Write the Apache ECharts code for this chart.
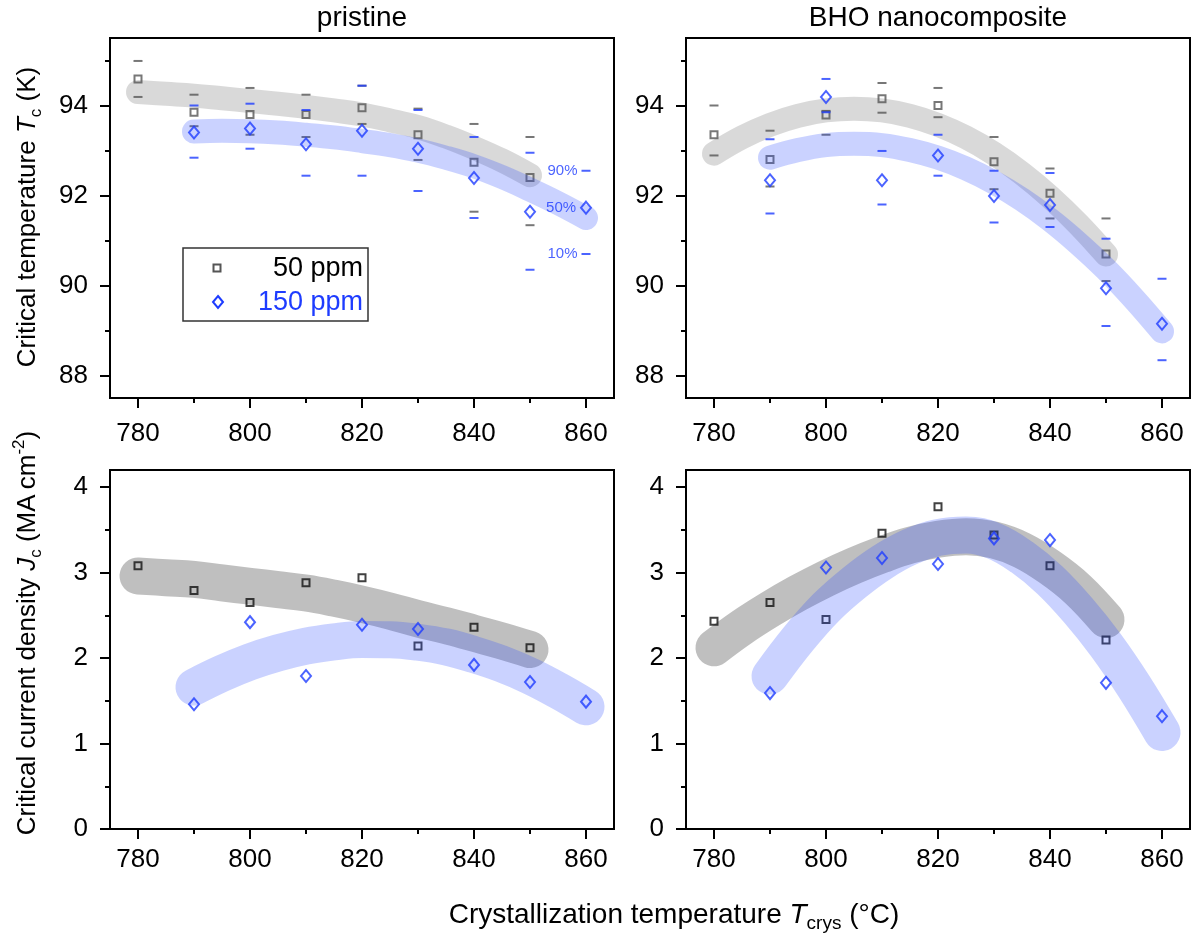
<!DOCTYPE html>
<html>
<head>
<meta charset="utf-8">
<script src="https://cdn.jsdelivr.net/npm/echarts@6/dist/echarts.min.js"></script>
<style>
  html, body { margin: 0; padding: 0; background: #fff; }
  #chart { width: 1192px; height: 938px; }
</style>
</head>
<body>
<div id="chart"></div>
<script>
// ---------------- data ----------------
const temps50 = [780, 790, 800, 810, 820, 830, 840, 850];
const temps150 = [790, 800, 810, 820, 830, 840, 850, 860];
// trend bands read every 5 °C
const bandT50 = [780, 785, 790, 795, 800, 805, 810, 815, 820, 825, 830, 835, 840, 845, 850];
const bandT150 = [790, 795, 800, 805, 810, 815, 820, 825, 830, 835, 840, 845, 850, 855, 860];

// pristine, critical temperature (K)
const prTc50 = [94.59, 93.85, 93.80, 93.80, 93.95, 93.35, 92.74, 92.40];
const prTc50p90 = [94.99, 94.24, 94.39, 94.24, 94.44, 93.93, 93.59, 93.30];
const prTc50p10 = [94.19, 93.54, 93.35, 93.30, 93.59, 92.79, 91.64, 91.34];
const prTc150 = [93.40, 93.49, 93.14, 93.44, 93.04, 92.39, 91.64, 91.73];
const prTc150p90 = [94.00, 94.04, 93.90, 94.44, 93.90, 93.30, 92.95, 92.55];
const prTc150p10 = [92.84, 93.04, 92.44, 92.44, 92.10, 91.50, 90.35, 90.70];
const prTc50Band = [94.30, 94.26, 94.22, 94.16, 94.10, 94.04, 93.97, 93.89, 93.80, 93.67, 93.52, 93.31, 93.06, 92.78, 92.45];
const prTc150Band = [93.42, 93.44, 93.43, 93.40, 93.35, 93.29, 93.21, 93.12, 93.00, 92.84, 92.65, 92.41, 92.13, 91.83, 91.50];

// BHO nanocomposite, critical temperature (K)
const bhoTc50 = [93.35, 92.80, 93.79, 94.15, 94.00, 92.75, 92.05, 90.70];
const bhoTc50p90 = [94.00, 93.44, 93.88, 94.50, 94.39, 93.30, 92.60, 91.49];
const bhoTc50p10 = [92.89, 92.20, 93.35, 93.84, 93.74, 92.14, 91.49, 90.10];
const bhoTc150 = [92.34, 94.19, 92.34, 92.89, 91.99, 91.79, 89.94, 89.15];
const bhoTc150p90 = [93.25, 94.59, 92.99, 93.35, 92.55, 92.50, 91.04, 90.15];
const bhoTc150p10 = [91.60, 93.85, 91.80, 92.44, 91.40, 91.30, 89.10, 88.34];
const bhoTc50Band = [92.93, 93.29, 93.57, 93.77, 93.89, 93.93, 93.89, 93.77, 93.57, 93.29, 92.93, 92.49, 91.97, 91.37, 90.69];
const bhoTc150Band = [92.84, 93.01, 93.12, 93.15, 93.12, 93.01, 92.84, 92.60, 92.29, 91.91, 91.46, 90.94, 90.36, 89.70, 88.98];

// pristine, critical current density (MA cm^-2)
const prJc50 = [3.08, 2.79, 2.65, 2.88, 2.94, 2.14, 2.36, 2.12];
const prJc150 = [1.46, 2.42, 1.79, 2.39, 2.34, 1.92, 1.72, 1.49];
const prJc50Band = [2.96, 2.94, 2.92, 2.88, 2.84, 2.80, 2.76, 2.70, 2.63, 2.55, 2.46, 2.38, 2.29, 2.20, 2.10];
const prJc150Band = [1.66, 1.82, 1.955, 2.06, 2.14, 2.19, 2.218, 2.215, 2.185, 2.13, 2.04, 1.93, 1.79, 1.62, 1.43];

// BHO nanocomposite, critical current density (MA cm^-2)
const bhoJc50 = [2.43, 2.65, 2.45, 3.46, 3.77, 3.44, 3.08, 2.21];
const bhoJc150 = [1.59, 3.06, 3.17, 3.10, 3.40, 3.38, 1.71, 1.32];
const bhoJc50Band = [2.12, 2.36, 2.57, 2.76, 2.93, 3.08, 3.21, 3.32, 3.39, 3.42, 3.38, 3.26, 3.06, 2.80, 2.45];
const bhoJc150Band = [1.79, 2.22, 2.59, 2.88, 3.12, 3.30, 3.41, 3.44, 3.37, 3.18, 2.91, 2.56, 2.15, 1.67, 1.13];

// tick values
const xLabelVals = [780, 800, 820, 840, 860];
const xMinorVals = [790, 810, 830, 850];
const tcLabelVals = [88, 90, 92, 94];
const tcMinorVals = [89, 91, 93, 95];
const jcLabelVals = [0, 1, 2, 3, 4];
const jcMinorVals = [0.5, 1.5, 2.5, 3.5];

const panelTitles = ['pristine', 'BHO nanocomposite'];
const legendNames = ['50 ppm', '150 ppm'];
const pctNames = ['90%', '50%', '10%'];

// ---------------- style ----------------
const FONT = "'Liberation Sans', Arial, sans-serif";
const BLUE = '#1e3cff';
const GRAY_T = '#555555';
const BLACK = '#111111';

const grids = [
  { left: 110, top: 38, width: 504, height: 360 },
  { left: 686, top: 38, width: 504, height: 360 },
  { left: 110, top: 470, width: 504, height: 359 },
  { left: 686, top: 470, width: 504, height: 359 }
].map(g => Object.assign(g, { show: true, borderColor: '#000', borderWidth: 2, backgroundColor: 'transparent' }));

const xAxis = [];
const yAxis = [];
for (let g = 0; g < 4; g++) {
  const isTop = g < 2;
  xAxis.push({
    gridIndex: g, type: 'value', min: 775, max: 865, position: 'bottom',
    axisLine: { show: true, lineStyle: { color: '#000', width: 2 } },
    axisTick: { show: true, length: 10, customValues: xLabelVals, lineStyle: { color: '#000', width: 2 } },
    axisLabel: { show: true, customValues: xLabelVals, fontSize: 26, fontFamily: FONT, color: '#000', margin: isTop ? 23 : 18 },
    splitLine: { show: false }
  });
  xAxis.push({
    gridIndex: g, type: 'value', min: 775, max: 865, position: 'bottom',
    axisLine: { show: false },
    axisTick: { show: true, length: 5, customValues: xMinorVals, lineStyle: { color: '#000', width: 2 } },
    axisLabel: { show: false },
    splitLine: { show: false }
  });
  yAxis.push({
    gridIndex: g, type: 'value', position: 'left',
    min: isTop ? 87.5 : 0, max: isTop ? 95.5 : 4.2,
    axisLine: { show: true, lineStyle: { color: '#000', width: 2 } },
    axisTick: { show: true, length: 10, customValues: isTop ? tcLabelVals : jcLabelVals, lineStyle: { color: '#000', width: 2 } },
    axisLabel: { show: true, customValues: isTop ? tcLabelVals : jcLabelVals, fontSize: 26, fontFamily: FONT, color: '#000', margin: 22 },
    splitLine: { show: false }
  });
  yAxis.push({
    gridIndex: g, type: 'value', position: 'left',
    min: isTop ? 87.5 : 0, max: isTop ? 95.5 : 4.2,
    axisLine: { show: false },
    axisTick: { show: true, length: 5, customValues: isTop ? tcMinorVals : jcMinorVals, lineStyle: { color: '#000', width: 2 } },
    axisLabel: { show: false },
    splitLine: { show: false }
  });
}

function pts(xs, ys) { return xs.map((x, i) => [x, ys[i]]); }

const series = [];
function band(g, xs, ys, color, width, z) {
  series.push({
    type: 'line', xAxisIndex: 2 * g, yAxisIndex: 2 * g, data: pts(xs, ys),
    smooth: 0.4, showSymbol: false, symbol: 'none', silent: true, z: z,
    lineStyle: { color: color, width: width, cap: 'round', join: 'round' }
  });
}
function marks(g, xs, ys, kind, color, z, lastLabel) {
  const d = pts(xs, ys).map((p, i) => {
    const item = { value: p };
    if (lastLabel && i === xs.length - 1) {
      item.label = { show: true, formatter: lastLabel, position: 'left', distance: 4, color: BLUE, fontSize: 15, fontFamily: FONT };
    }
    return item;
  });
  const s = { type: 'scatter', xAxisIndex: 2 * g, yAxisIndex: 2 * g, data: d, silent: true, z: z };
  if (kind === 'sq') {
    s.symbol = 'rect'; s.symbolSize = 7;
    s.itemStyle = { color: 'rgba(0,0,0,0)', borderColor: color, borderWidth: 2 };
  } else if (kind === 'di') {
    s.symbol = 'diamond'; s.symbolSize = [10, 12];
    s.itemStyle = { color: 'rgba(0,0,0,0)', borderColor: color, borderWidth: 2 };
  } else {
    s.symbol = 'rect'; s.symbolSize = [9, 2];
    s.itemStyle = { color: color };
  }
  series.push(s);
}

const grayTop = 'rgba(0,0,0,0.15)';
const grayBot = 'rgba(0,0,0,0.25)';
const blueBand = 'rgba(43,75,255,0.25)';

// panel 0: pristine Tc
band(0, bandT50, prTc50Band, grayTop, 24, 1);
marks(0, temps50, prTc50p90, 'dash', GRAY_T, 2);
marks(0, temps50, prTc50p10, 'dash', GRAY_T, 2);
marks(0, temps50, prTc50, 'sq', GRAY_T, 2);
band(0, bandT150, prTc150Band, blueBand, 24, 3);
marks(0, temps150, prTc150p90, 'dash', BLUE, 4, pctNames[0]);
marks(0, temps150, prTc150p10, 'dash', BLUE, 4, pctNames[2]);
marks(0, temps150, prTc150, 'di', BLUE, 4, pctNames[1]);

// panel 1: BHO Tc
band(1, bandT50, bhoTc50Band, grayTop, 24, 1);
marks(1, temps50, bhoTc50p90, 'dash', GRAY_T, 2);
marks(1, temps50, bhoTc50p10, 'dash', GRAY_T, 2);
marks(1, temps50, bhoTc50, 'sq', GRAY_T, 2);
band(1, bandT150, bhoTc150Band, blueBand, 24, 3);
marks(1, temps150, bhoTc150p90, 'dash', BLUE, 4);
marks(1, temps150, bhoTc150p10, 'dash', BLUE, 4);
marks(1, temps150, bhoTc150, 'di', BLUE, 4);

// panel 2: pristine Jc
band(2, bandT50, prJc50Band, grayBot, 37, 1);
marks(2, temps50, prJc50, 'sq', BLACK, 2);
band(2, bandT150, prJc150Band, blueBand, 37, 3);
marks(2, temps150, prJc150, 'di', BLUE, 4);

// panel 3: BHO Jc
band(3, bandT50, bhoJc50Band, grayBot, 37, 1);
marks(3, temps50, bhoJc50, 'sq', BLACK, 2);
band(3, bandT150, bhoJc150Band, blueBand, 37, 3);
marks(3, temps150, bhoJc150, 'di', BLUE, 4);

const richBase = {
  n: { fontSize: 26, fontFamily: FONT, fill: '#000' },
  i: { fontSize: 26, fontFamily: FONT, fontStyle: 'italic', fill: '#000' },
  sub: { fontSize: 17, fontFamily: FONT, fill: '#000', verticalAlign: 'bottom', padding: [0, 0, -4, 0] },
  sup: { fontSize: 17, fontFamily: FONT, fill: '#000', verticalAlign: 'top', padding: [-4, 0, 0, 0] }
};

const graphic = [
  { type: 'text', x: 362, y: 18, style: { text: panelTitles[0], font: '28px ' + FONT, fill: '#000', align: 'center', verticalAlign: 'middle' } },
  { type: 'text', x: 938, y: 18, style: { text: panelTitles[1], font: '28px ' + FONT, fill: '#000', align: 'center', verticalAlign: 'middle' } },
  { type: 'text', x: 674, y: 915, style: {
      text: '{n|Crystallization temperature }{i|T}{sub|crys}{n| (°C)}',
      align: 'center', verticalAlign: 'middle',
      rich: {
        n: { fontSize: 28, fontFamily: FONT, fill: '#000' },
        i: { fontSize: 28, fontFamily: FONT, fontStyle: 'italic', fill: '#000' },
        sub: { fontSize: 19, fontFamily: FONT, fill: '#000', verticalAlign: 'bottom', padding: [0, 0, -4, 0] }
      }
  } },
  { type: 'text', x: 28, y: 217, rotation: Math.PI / 2, style: {
      text: '{n|Critical temperature }{i|T}{sub|c}{n| (K)}',
      align: 'center', verticalAlign: 'middle', rich: richBase
  } },
  { type: 'text', x: 28, y: 633, rotation: Math.PI / 2, style: {
      text: '{n|Critical current density }{i|J}{sub|c}{n| (MA\u2009cm}{sup|-2}{n|)}',
      align: 'center', verticalAlign: 'middle', rich: richBase
  } },
  // legend
  { type: 'rect', shape: { x: 183, y: 248, width: 185, height: 73 }, style: { fill: '#fff', stroke: '#333', lineWidth: 1.5 }, z: 10 },
  { type: 'rect', shape: { x: 213.5, y: 264.5, width: 7, height: 7 }, style: { fill: 'none', stroke: GRAY_T, lineWidth: 2 }, z: 11 },
  { type: 'polygon', shape: { points: [[218, 296], [223, 302], [218, 308], [213, 302]] }, style: { fill: 'none', stroke: BLUE, lineWidth: 2 }, z: 11 },
  { type: 'text', x: 363, y: 269, style: { text: legendNames[0], font: '27px ' + FONT, fill: '#000', align: 'right', verticalAlign: 'middle' }, z: 11 },
  { type: 'text', x: 363, y: 303, style: { text: legendNames[1], font: '27px ' + FONT, fill: BLUE, align: 'right', verticalAlign: 'middle' }, z: 11 }
];

const chart = echarts.init(document.getElementById('chart'), null, { renderer: 'canvas' });
chart.setOption({
  animation: false,
  backgroundColor: '#fff',
  textStyle: { fontFamily: FONT },
  grid: grids,
  xAxis: xAxis,
  yAxis: yAxis,
  series: series,
  graphic: graphic
});
</script>
</body>
</html>
